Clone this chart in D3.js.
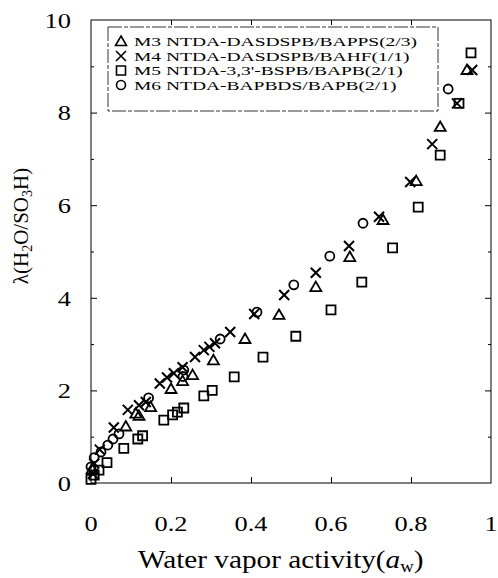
<!DOCTYPE html>
<html>
<head>
<meta charset="utf-8">
<script src="https://cdn.jsdelivr.net/npm/d3@7"></script>
<style>
	html, body { margin: 0; padding: 0; background: #fff; }
	#chart { width: 498px; height: 578px; }
	svg text { font-family: 'Liberation Serif', 'Times New Roman', serif; }
</style>
</head>
<body>
<div id="chart"></div>
<script>
//data
const seriesNames = [
	'M3 NTDA-DASDSPB/BAPPS(2/3)',
	'M4 NTDA-DASDSPB/BAHF(1/1)',
	'M5 NTDA-3,3\'-BSPB/BAPB(2/1)',
	'M6 NTDA-BAPBDS/BAPB(2/1)',
];
const seriesShapes = ['triangle', 'cross', 'square', 'circle'];

const m3 = [
	[0.003, 0.3], [0.087, 1.22], [0.112, 1.5], [0.12, 1.45], [0.149, 1.64],
	[0.2, 2.03], [0.229, 2.2], [0.254, 2.33], [0.306, 2.65], [0.385, 3.11],
	[0.47, 3.63], [0.562, 4.23], [0.647, 4.88], [0.73, 5.68], [0.813, 6.52],
	[0.873, 7.69], [0.94, 8.92],
];
const m4 = [
	[0.005, 0.2], [0.008, 0.42], [0.022, 0.72], [0.057, 1.2], [0.092, 1.58],
	[0.12, 1.68], [0.137, 1.75], [0.172, 2.15], [0.19, 2.28], [0.207, 2.37],
	[0.229, 2.5], [0.26, 2.72], [0.282, 2.87], [0.296, 2.94], [0.31, 3.02],
	[0.348, 3.26], [0.408, 3.65], [0.483, 4.06], [0.562, 4.54], [0.645, 5.12],
	[0.72, 5.75], [0.798, 6.5], [0.853, 7.32], [0.915, 8.2], [0.953, 8.92],
];
const m5 = [
	[0.0, 0.08], [0.008, 0.17], [0.02, 0.28], [0.04, 0.44], [0.082, 0.75],
	[0.117, 0.95], [0.129, 1.02], [0.182, 1.36], [0.204, 1.47], [0.216, 1.53],
	[0.232, 1.62], [0.282, 1.88], [0.303, 2.0], [0.358, 2.29], [0.43, 2.72],
	[0.512, 3.17], [0.6, 3.74], [0.677, 4.34], [0.754, 5.08], [0.818, 5.96],
	[0.873, 7.08], [0.92, 8.2], [0.95, 9.29],
];
const m6 = [
	[0.0, 0.35], [0.008, 0.55], [0.025, 0.67], [0.042, 0.82], [0.055, 0.95],
	[0.07, 1.06], [0.144, 1.84], [0.23, 2.3], [0.232, 2.44], [0.323, 3.11],
	[0.415, 3.69], [0.507, 4.28], [0.597, 4.9], [0.68, 5.61], [0.893, 8.51],
];
const seriesValues = [m3, m4, m5, m6];

const xTicks = [0, 0.2, 0.4, 0.6, 0.8, 1];
const yTicks = [0, 2, 4, 6, 8, 10];
const yMinorTicks = [1, 3, 5, 7, 9];

render();

function render() {
	let properties = {
		width: 498,
		height: 578,
		left: 91,
		right: 491,
		top: 20,
		bottom: 483,
		xDomain: [0, 1],
		yDomain: [0, 10],
		stretch: 1.2, // the scanned figure is wider than plain Times
		color: '#000',
	};

	createVisualization(d3.select('#chart'), properties);
}

function createVisualization(container, props) {
	let { width, height, left, right, top, bottom, xDomain, yDomain, stretch, color } = props;

	let x = d3.scaleLinear().domain(xDomain).range([left, right]);
	let y = d3.scaleLinear().domain(yDomain).range([bottom, top]);

	let svg = container
		.append('svg')
		.attr('width', width)
		.attr('height', height);

	//frame
	svg.append('rect')
		.attr('x', left)
		.attr('y', top)
		.attr('width', right - left)
		.attr('height', bottom - top)
		.attr('fill', 'none')
		.attr('stroke', color)
		.attr('stroke-width', 1);

	//axes, ticks pointing inward
	const noLabels = () => '';
	svg.append('g')
		.attr('transform', translation(0, bottom))
		.call(d3.axisTop(x).tickValues(xTicks.slice(1, -1)).tickSize(6).tickFormat(noLabels));
	svg.append('g')
		.attr('transform', translation(0, top))
		.call(d3.axisBottom(x).tickValues(xTicks.slice(1, -1)).tickSize(5).tickFormat(noLabels));
	svg.append('g')
		.attr('transform', translation(left, 0))
		.call(d3.axisRight(y).tickValues(yTicks.slice(1, -1)).tickSize(6).tickFormat(noLabels));
	svg.append('g')
		.attr('transform', translation(left, 0))
		.call(d3.axisRight(y).tickValues(yMinorTicks).tickSize(3).tickFormat(noLabels));
	svg.append('g')
		.attr('transform', translation(right, 0))
		.call(d3.axisLeft(y).tickValues(yTicks.slice(1, -1)).tickSize(6).tickFormat(noLabels));
	svg.append('g')
		.attr('transform', translation(right, 0))
		.call(d3.axisLeft(y).tickValues(yMinorTicks).tickSize(3).tickFormat(noLabels));
	svg.selectAll('.domain').remove();
	svg.selectAll('.tick line').attr('stroke', color);
	svg.selectAll('.tick text').remove();

	//tick labels
	svg.selectAll('.xlabel')
		.data(xTicks)
		.enter()
		.append('text')
		.attr('class', 'xlabel')
		.attr('transform', (d) => `${translation(x(d), 531)} scale(${stretch},1)`)
		.attr('text-anchor', 'middle')
		.attr('font-size', 22)
		.attr('fill', color)
		.text((d) => d);

	svg.selectAll('.ylabel')
		.data(yTicks)
		.enter()
		.append('text')
		.attr('class', 'ylabel')
		.attr('transform', (d) => `${translation(71, y(d))} scale(${stretch},1)`)
		.attr('dy', '0.35em')
		.attr('text-anchor', 'end')
		.attr('font-size', 22)
		.attr('fill', color)
		.text((d) => d);

	//axis titles
	let xTitle = svg.append('text')
		.attr('transform', `${translation(138, 568)} scale(1.17,1)`)
		.attr('font-size', 25)
		.attr('fill', color);
	xTitle.append('tspan').text('Water vapor activity(');
	xTitle.append('tspan').attr('font-style', 'italic').text('a');
	xTitle.append('tspan').attr('font-size', 16).attr('dy', 4).text('w');
	xTitle.append('tspan').attr('dy', -4).text(')');

	let yTitle = svg.append('text')
		.attr('transform', `translate(28, 226) rotate(-90)`)
		.attr('text-anchor', 'middle')
		.attr('font-size', 21)
		.attr('fill', color);
	yTitle.append('tspan').text('λ(H');
	yTitle.append('tspan').attr('font-size', 14).attr('dy', 4).text('2');
	yTitle.append('tspan').attr('dy', -4).text('O/SO');
	yTitle.append('tspan').attr('font-size', 14).attr('dy', 4).text('3');
	yTitle.append('tspan').attr('dy', -4).text('H)');

	//markers
	const symbolPath = {
		triangle: 'M0,-5.5L5.5,4L-5.5,4Z',
		cross: 'M-5,-5L5,5M5,-5L-5,5',
		square: 'M-4.5,-4.5H4.5V4.5H-4.5Z',
		circle: 'M4.5,0A4.5,4.5 0 1 1 -4.5,0A4.5,4.5 0 1 1 4.5,0Z',
	};

	let groups = svg.selectAll('.series')
		.data(seriesValues)
		.enter()
		.append('g')
		.attr('class', 'series');

	groups.selectAll('path')
		.data((d, i) => d.map((p) => ({ p, shape: seriesShapes[i] })))
		.enter()
		.append('path')
		.attr('transform', (d) => translation(x(d.p[0]), y(d.p[1])))
		.attr('d', (d) => symbolPath[d.shape])
		.attr('fill', 'none')
		.attr('stroke', color)
		.attr('stroke-width', (d) => (d.shape === 'cross' ? 2 : 1.8));

	//legend
	let legend = svg.append('g').attr('class', 'legend');
	legend.append('rect')
		.attr('x', 108)
		.attr('y', 27)
		.attr('width', 330)
		.attr('height', 84)
		.attr('fill', '#fff')
		.attr('stroke', color)
		.attr('stroke-width', 0.8)
		.attr('stroke-dasharray', '14,2,4,2');

	let rows = legend.selectAll('.row')
		.data(seriesNames)
		.enter()
		.append('g')
		.attr('class', 'row')
		.attr('transform', (d, i) => translation(0, 41.5 + i * 14.5));

	rows.append('path')
		.attr('transform', translation(121, 0))
		.attr('d', (d, i) => symbolPath[seriesShapes[i]])
		.attr('fill', 'none')
		.attr('stroke', color)
		.attr('stroke-width', 1.6);

	let legendText = rows.append('text')
		.attr('x', 134)
		.attr('dy', '0.35em')
		.attr('font-size', 13)
		.attr('fill', color)
		.text((d) => d);

	// widen the legend labels so the first one spans the box like the scan
	let legendStretch = 283 / legendText.node().getComputedTextLength();
	legendText
		.attr('lengthAdjust', 'spacingAndGlyphs')
		.attr('textLength', function () {
			return this.getComputedTextLength() * legendStretch;
		});
}

//utils
function translation(x, y) {
	return `translate(${x}, ${y})`;
}
</script>
</body>
</html>
